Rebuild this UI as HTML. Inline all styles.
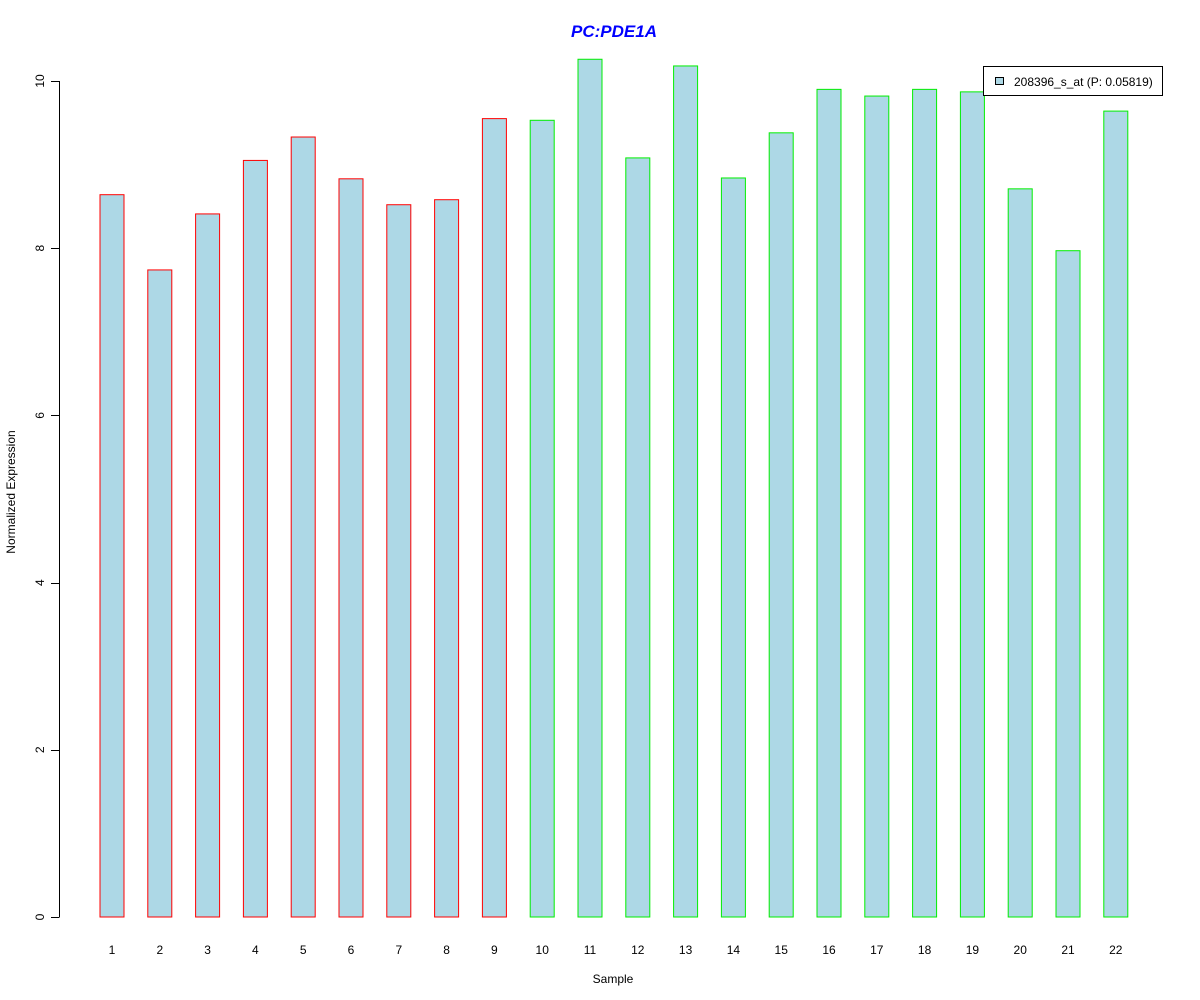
<!DOCTYPE html>
<html><head><meta charset="utf-8"><style>
html,body{margin:0;padding:0;background:#fff;}
svg{display:block;font-family:"Liberation Sans",Arial,sans-serif;}
</style></head><body>
<svg id="chart" width="1200" height="1000" viewBox="0 0 1200 1000" xmlns="http://www.w3.org/2000/svg">
<rect width="1200" height="1000" fill="#fff"/>
<text x="614" y="37" text-anchor="middle" font-size="17" font-weight="bold" font-style="italic" fill="#0000ff">PC:PDE1A</text>
<text x="613" y="983" text-anchor="middle" font-size="12">Sample</text>
<text transform="translate(15,492) rotate(-90)" text-anchor="middle" font-size="12">Normalized Expression</text>
<g id="bars"></g>
<g id="yaxis"></g>
<g id="xlabels"></g>
<g>
<rect x="983.5" y="66.5" width="179" height="29" fill="#fff" stroke="#000"/>
<rect x="995.5" y="77.5" width="8" height="7" fill="#add8e6" stroke="#000"/>
<text x="1014" y="86" font-size="12">208396_s_at (P: 0.05819)</text>
</g>
</svg>
<script>
const categories = ["1","2","3","4","5","6","7","8","9","10","11","12","13","14","15","16","17","18","19","20","21","22"];
const values = [8.64,7.74,8.41,9.05,9.33,8.83,8.52,8.58,9.55,9.53,10.26,9.08,10.18,8.84,9.38,9.90,9.82,9.90,9.87,8.71,7.97,9.64];
const groups = ["a","a","a","a","a","a","a","a","a","b","b","b","b","b","b","b","b","b","b","b","b","b"];
const yTicks = [0,2,4,6,8,10];
const NS = "http://www.w3.org/2000/svg";
function yScale(v){ return 917 - v * 83.6; }
function xCenter(i){ return 112 + i * 47.8; }
const bw = 24;
const bars = document.getElementById('bars');
values.forEach((v,i)=>{
  const r = document.createElementNS(NS,'rect');
  
  
  r.setAttribute('x', xCenter(i) - bw/2);
  r.setAttribute('y', yScale(v));
  r.setAttribute('width', bw);
  r.setAttribute('height', yScale(0) - yScale(v));
  r.setAttribute('fill', '#add8e6');
  r.setAttribute('stroke', groups[i] === 'a' ? '#ff0000' : '#00ee00');
  r.setAttribute('stroke-width', '1');
  bars.appendChild(r);
  const t = document.createElementNS(NS,'text');
  
  
  t.setAttribute('x', xCenter(i));
  t.setAttribute('y', 954);
  t.setAttribute('text-anchor', 'middle');
  t.setAttribute('font-size', '12');
  t.textContent = categories[i];
  document.getElementById('xlabels').appendChild(t);
});
const ya = document.getElementById('yaxis');
const line = document.createElementNS(NS,'line');


line.setAttribute('x1', 59.5); line.setAttribute('x2', 59.5);
line.setAttribute('y1', yScale(yTicks[0])); line.setAttribute('y2', yScale(yTicks[yTicks.length-1]));
line.setAttribute('stroke', '#000');
ya.appendChild(line);
yTicks.forEach(v=>{
  const tk = document.createElementNS(NS,'line');
  
  
  tk.setAttribute('x1', 51); tk.setAttribute('x2', 59.5);
  tk.setAttribute('y1', Math.round(yScale(v))+0.5); tk.setAttribute('y2', Math.round(yScale(v))+0.5);
  tk.setAttribute('stroke', '#000');
  ya.appendChild(tk);
  const t = document.createElementNS(NS,'text');
  
  
  t.setAttribute('transform', 'translate(44,' + yScale(v) + ') rotate(-90)');
  t.setAttribute('text-anchor', 'middle');
  t.setAttribute('font-size', '12');
  t.textContent = v;
  ya.appendChild(t);
});
</script>
</body></html>
